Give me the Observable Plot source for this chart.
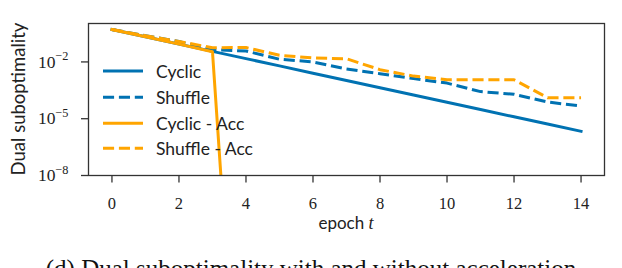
<!DOCTYPE html>
<html>
<head>
<meta charset="utf-8">
<script src="https://cdn.jsdelivr.net/npm/d3@7"></script>
<script src="https://cdn.jsdelivr.net/npm/@observablehq/plot@0.6"></script>
<style>
  html, body { margin: 0; padding: 0; background: #fff; }
  svg { display: block; }
</style>
</head>
<body>
<div id="chart"></div>
<script>
// ---- data ----
const epochs = [0, 1, 2, 3, 4, 5, 6, 7, 8, 9, 10, 11, 12, 13, 14];
const cyclic = [0.513, 0.212, 0.0875, 0.0361, 0.0149, 0.00617, 0.00255, 0.00105,
                4.35e-4, 1.79e-4, 7.41e-5, 3.06e-5, 1.26e-5, 5.22e-6, 2.16e-6];
const shuffle = [0.513, 0.245, 0.12, 0.0437, 0.038, 0.0138, 0.01, 0.00427,
                 0.0024, 0.00132, 7.6e-4, 2.7e-4, 1.95e-4, 7.6e-5, 4.7e-5];
const cyclicAccEpochs = [0, 1, 2, 3, 4];
const cyclicAcc = [0.513, 0.212, 0.0875, 0.0345, 3e-28];
const shuffleAcc = [0.513, 0.245, 0.12, 0.0562, 0.0575, 0.0224, 0.0162, 0.0148,
                    0.00389, 0.00178, 0.00115, 0.00115, 0.00115, 1.29e-4, 1.29e-4];
const seriesNames = ["Cyclic", "Shuffle", "Cyclic - Acc", "Shuffle - Acc"];
const xTicks = [0, 2, 4, 6, 8, 10, 12, 14];
const yTicks = [1e-2, 1e-5, 1e-8];
const xLabel = "epoch";
const xLabelVar = "t";
const yLabel = "Dual suboptimality";
const caption = "(d) Dual suboptimality with and without acceleration";

// ---- styles ----
const BLUE = "#0072B2";
const ORANGE = "#FFA500";
const DASH = "11.1,4.8";
const styles = [
  {color: BLUE, dash: null},
  {color: BLUE, dash: DASH},
  {color: ORANGE, dash: null},
  {color: ORANGE, dash: DASH}
];

const rows = (xs, ys) => xs.map((e, i) => ({epoch: e, value: ys[i]}));
const dataSets = [
  rows(epochs, cyclic),
  rows(epochs, shuffle),
  rows(cyclicAccEpochs, cyclicAcc),
  rows(epochs, shuffleAcc)
];

const AXIS = "#333";
const SERIF = "'Liberation Serif', 'DejaVu Serif', serif";
const SANS = "Lato, 'Noto Sans', sans-serif";

const lineMarks = dataSets.map((d, i) => Plot.line(d, {
  x: "epoch", y: "value",
  stroke: styles[i].color,
  strokeWidth: 3,
  strokeDasharray: styles[i].dash,
  strokeLinecap: styles[i].dash ? "butt" : "square",
  strokeLinejoin: "round",
  clip: true
}));

const chart = Plot.plot({
  width: 622,
  height: 268,
  marginLeft: 88,
  marginRight: 18,
  marginTop: 23,
  marginBottom: 93,
  style: {background: "#fff", fontFamily: SERIF, fontSize: "16px", color: "#222"},
  x: {domain: [-0.7, 14.7]},
  y: {type: "log", domain: [1e-8, Math.pow(10, 0.03)]},
  marks: [
    ...lineMarks,
    Plot.frame({stroke: AXIS, strokeWidth: 1.3}),
    Plot.axisX({ticks: xTicks, tickSize: 7.5, tickPadding: 14, stroke: AXIS, strokeWidth: 1.3, label: null, tickFormat: d => String(d)}),
    Plot.axisY({ticks: yTicks, tickSize: 7, tickPadding: 13, stroke: AXIS, strokeWidth: 1.3, label: null, tickFormat: d => String(Math.round(Math.log10(d)))})
  ]
});

document.getElementById("chart").appendChild(chart);

const svg = d3.select(chart);

svg.selectAll("g[aria-label='x-axis tick label'] text")
  .attr("font-size", 16.5).attr("font-family", SERIF);

// superscript exponents on y tick labels
svg.selectAll("g[aria-label='y-axis tick label'] text").each(function() {
  const t = d3.select(this);
  const exp = t.text().replace("-", "\u2212");
  t.attr("font-size", 17.5).attr("font-family", SERIF);
  t.text("10");
  t.append("tspan").attr("dy", "-0.6em").attr("font-size", "0.7em").text(exp);
});

// x label
const xl = svg.append("text")
  .attr("x", 346).attr("y", 229.3)
  .attr("text-anchor", "middle")
  .attr("fill", "#222");
xl.append("tspan").attr("font-family", SANS).attr("font-size", 17).text(xLabel + " ");
xl.append("tspan").attr("font-family", SERIF).attr("font-style", "italic").attr("font-size", 18).text(xLabelVar);

// y label
svg.append("text")
  .attr("transform", "translate(24.5,99) rotate(-90)")
  .attr("text-anchor", "middle")
  .attr("font-family", SANS).attr("font-size", 18.5)
  .attr("fill", "#222")
  .text(yLabel);

// legend
const rowY = [71, 97.3, 123.3, 148.3];
const lg = svg.append("g").attr("aria-label", "legend").attr("text-anchor", "start");
seriesNames.forEach((name, i) => {
  lg.append("line")
    .attr("x1", 103).attr("x2", 143)
    .attr("y1", rowY[i]).attr("y2", rowY[i])
    .attr("stroke", styles[i].color).attr("stroke-width", 3)
    .attr("stroke-dasharray", styles[i].dash);
  lg.append("text")
    .attr("x", 156).attr("y", rowY[i] + 6.5)
    .attr("text-anchor", "start")
    .attr("font-family", SANS).attr("font-size", 17.5)
    .attr("fill", "#222")
    .text(name);
});

// caption (cut off at the bottom like the reference)
svg.append("text")
  .attr("x", 311).attr("y", 277)
  .attr("text-anchor", "middle")
  .attr("font-family", SERIF).attr("font-size", 25)
  .attr("fill", "#111")
  .text(caption);
</script>
</body>
</html>
